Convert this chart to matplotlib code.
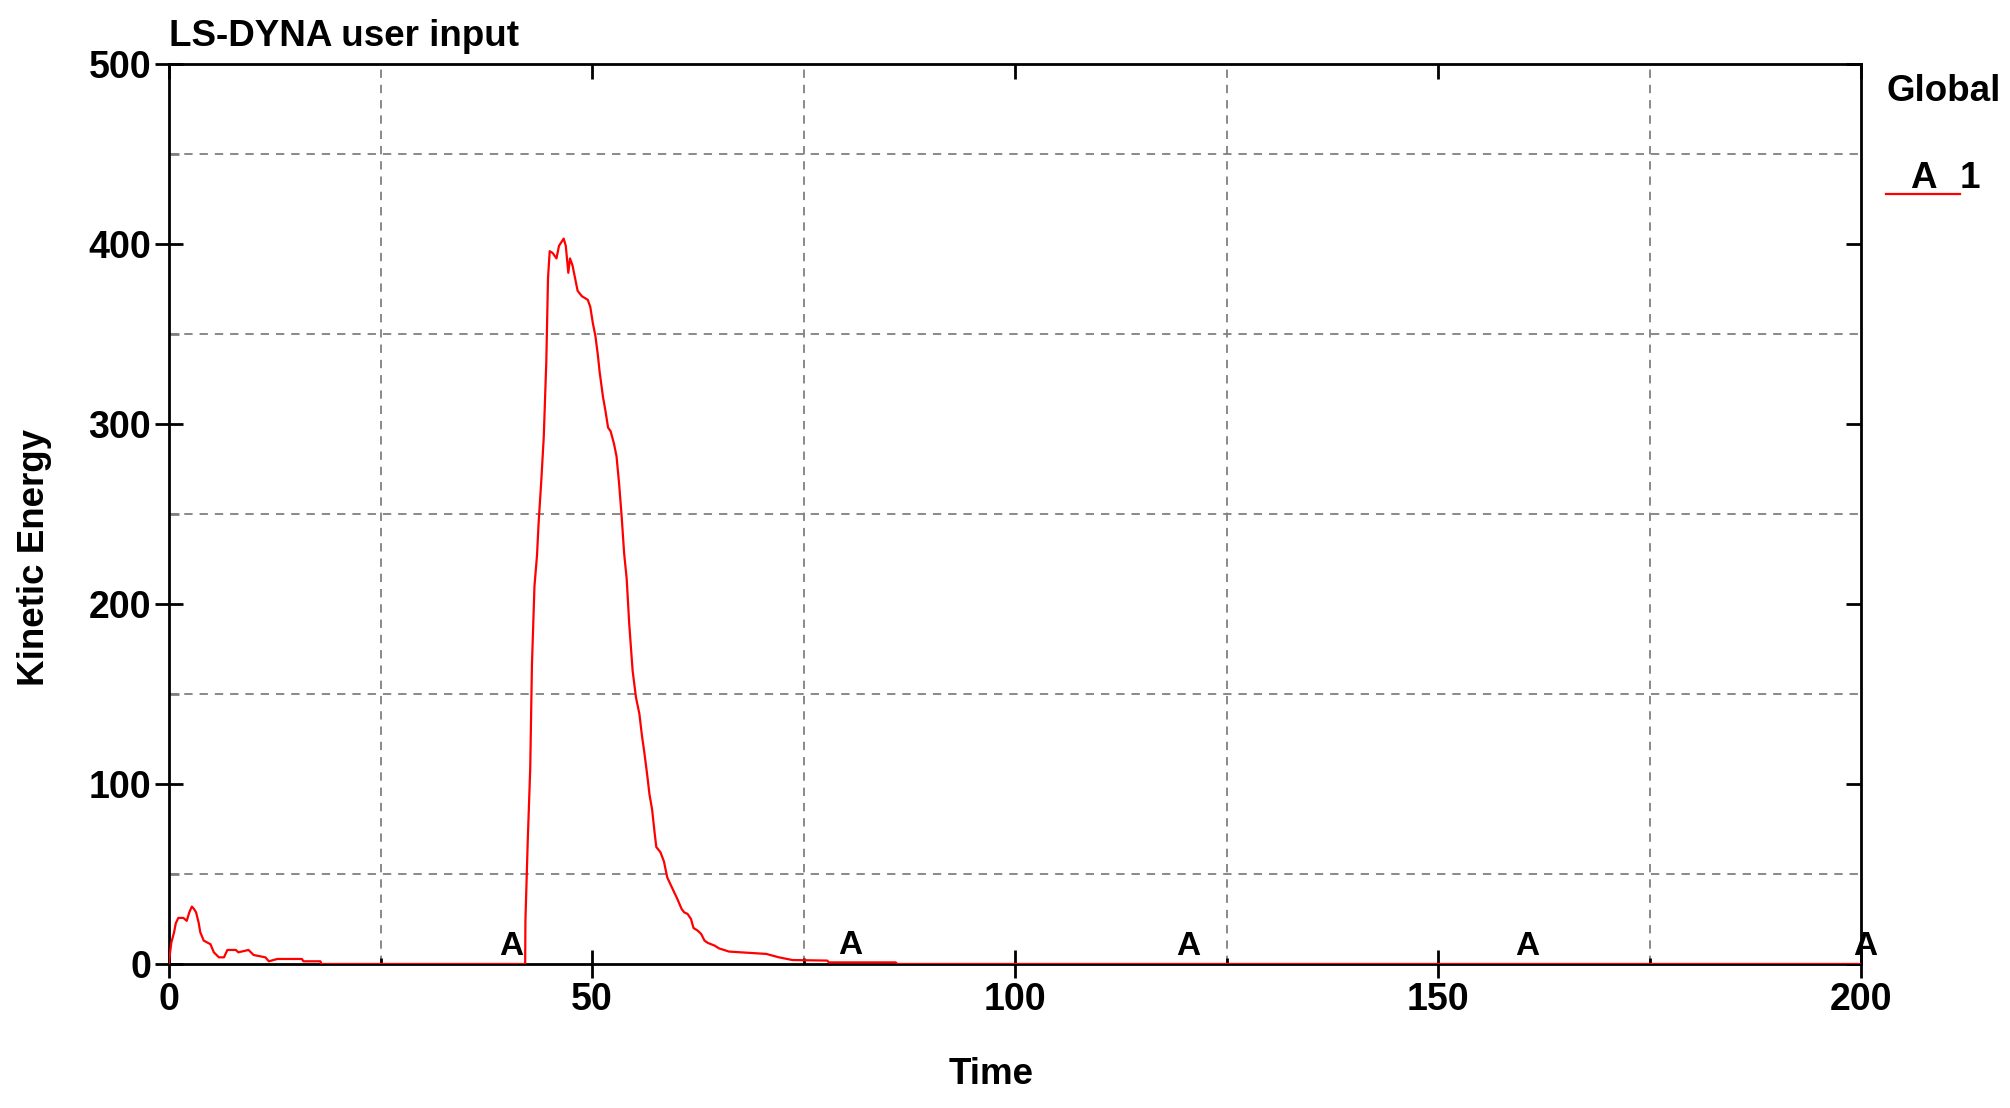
"""
kinetic energy history, LS-DYNA style plot
"""
import matplotlib
matplotlib.use("Agg")
import matplotlib.pyplot as plt
import numpy as np
from matplotlib.lines import Line2D

plt.rcParams["font.family"] = ["Liberation Sans", "DejaVu Sans"]
plt.rcParams["font.weight"] = "bold"
plt.rcParams["lines.scale_dashes"] = False

# curve
time = [
    0, 0.08, 0.28, 0.6, 0.8, 1.1, 1.7, 2.1, 2.4, 2.7, 2.95, 3.2, 3.5, 3.7,
    4.1, 4.5, 4.9, 5.3, 5.9, 6.5, 6.9, 7.9, 8.2, 9.4, 10.0, 11.4, 11.8,
    12.8, 15.7, 15.9, 17.9, 18.0, 42.1, 42.13, 42.4, 42.7, 42.9, 43.2,
    43.5, 43.7, 44.0, 44.3, 44.6, 44.8, 45.0, 45.35, 45.8, 46.1, 46.65,
    46.9, 47.2, 47.4, 47.7, 48.0, 48.3, 48.8, 49.5, 49.8, 50.1, 50.4, 50.7,
    50.9, 51.3, 51.6, 51.9, 52.2, 52.6, 52.9, 53.2, 53.5, 53.8, 54.1, 54.4,
    54.8, 55.2, 55.6, 55.9, 56.2, 56.5, 56.8, 57.1, 57.4, 57.6, 58.1, 58.5,
    58.9, 59.3, 59.7, 60.1, 60.6, 60.9, 61.3, 61.7, 62.0, 62.5, 62.9, 63.3,
    63.7, 64.5, 65.0, 66.2, 70.6, 72.1, 73.7, 77.8, 78.0, 85.9, 86.1, 200,
]
kinetic_energy = [
    0, 4.6, 12, 17.6, 22.6, 25.6, 25.6, 24, 28.7, 31.9, 30.6, 28.7, 23,
    17.6, 13, 12, 11, 6.5, 3.7, 3.7, 7.8, 7.8, 6.5, 7.8, 5, 3.7, 1.5, 2.8,
    2.8, 1.5, 1.5, 0, 0, 24, 67.7, 109, 166, 210, 227, 246, 268, 293, 335,
    381, 396, 395, 392, 399, 403, 399, 384, 392, 388, 381, 374, 371, 369,
    365, 356, 349, 338, 329, 315, 307, 298, 296, 289, 282, 267, 249, 228,
    214, 189, 163, 148, 139, 127, 117, 106, 94, 86, 73, 65, 62, 57, 48, 44,
    40, 36, 30.5, 28.7, 27.8, 25, 20, 18.5, 16.7, 13, 11.7, 10.2, 8.7, 6.9,
    5.6, 3.7, 2.2, 1.9, 0.9, 0.9, 0, 0,
]
label_times = [40, 80, 120, 160, 200]

x_major = [0, 50, 100, 150, 200]
x_minor = [25, 75, 125, 175]
y_major = [0, 100, 200, 300, 400, 500]
y_minor = [50, 150, 250, 350, 450]

W, H = 2010, 1108
fig = plt.figure(figsize=(W / 100, H / 100), dpi=100)
ax = fig.add_axes([169 / W, 1 - 964 / H, 1692 / W, 900 / H])

ax.plot(time, kinetic_energy, color="red", lw=1.6, zorder=3)

# curve labels every 40 time units
for t in label_times:
    v = np.interp(t, time, kinetic_energy)
    ax.text(t + 0.5, v + 1.0, "A", fontsize=24, ha="center", va="bottom",
            clip_on=False, zorder=4)

ax.set_xlim(0, 200)
ax.set_ylim(0, 500)
ax.set_xticks(x_major)
ax.set_xticks(x_minor, minor=True)
ax.set_yticks(y_major)
ax.set_yticks(y_minor, minor=True)

for v in x_minor:
    ax.axvline(v, color="#808080", lw=1.3, ls=(0, (6, 5)), zorder=1)
for v in y_minor:
    ax.axhline(v, color="#808080", lw=1.3, ls=(0, (6, 5)), zorder=1)

for sp in ax.spines.values():
    sp.set_linewidth(2)
    sp.set_color("black")

ax.tick_params(axis="both", which="major", direction="inout", length=20,
               width=2, labelsize=27, top=False, right=False, pad=3)
ax.tick_params(axis="x", which="minor", direction="in", length=4, width=2)
ax.tick_params(axis="y", which="minor", direction="in", length=7, width=2,
               colors="#808080")
for lab in ax.get_xticklabels() + ax.get_yticklabels():
    lab.set_fontweight("bold")

# inward ticks on top and right
top = ax.secondary_xaxis("top")
top.set_xticks(x_major)
top.tick_params(direction="in", length=11, width=2, labeltop=False)
right = ax.secondary_yaxis("right")
right.set_yticks(y_major)
right.tick_params(direction="in", length=11, width=2, labelright=False)

fig.text(169 / W, 1 - 36 / H, "LS-DYNA user input", fontsize=26.5,
         ha="left", va="center")
fig.text(991 / W, 1 - 1074 / H, "Time", fontsize=26.5, ha="center",
         va="center")
fig.text(35 / W, 1 - 557 / H, "Kinetic Energy", fontsize=26.5, rotation=90,
         ha="center", va="center")

# legend block on the right
fig.text(1886 / W, 1 - 91 / H, "Global", fontsize=26.5, ha="left",
         va="center")
fig.text(1923 / W, 1 - 178 / H, "A", fontsize=26.5, ha="center", va="center")
fig.text(1970 / W, 1 - 178 / H, "1", fontsize=26.5, ha="center", va="center")
fig.add_artist(Line2D([1886 / W, 1960 / W], [1 - 194 / H, 1 - 194 / H],
                      color="red", lw=1.6, transform=fig.transFigure))

fig.savefig("out.png", dpi=100)
